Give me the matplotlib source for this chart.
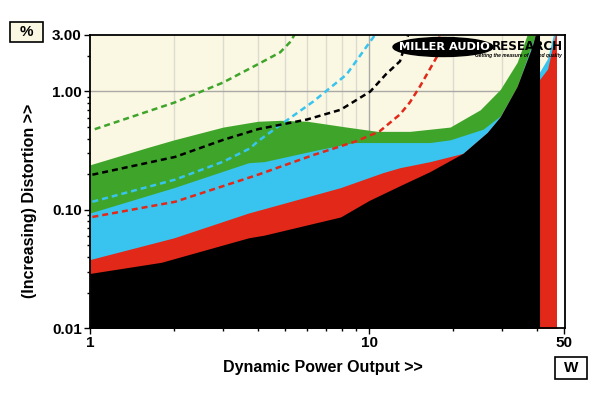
import numpy as np
import matplotlib
matplotlib.use("Agg")
import matplotlib.pyplot as plt
from matplotlib.patches import Ellipse, Rectangle

plt.rcParams['font.family'] = ['Liberation Sans', 'DejaVu Sans']

# ---------------- DATA ----------------
# filled bands, each is the top edge of one colour (x in W, y in %)
green_x = [1.0, 1.6, 2.0, 3.0, 4.0, 4.8, 6.0, 8.3, 10.7, 14.0, 19.5, 25.0, 29.5, 33.9, 36.8, 40.0]
green_y = [0.24, 0.335, 0.39, 0.50, 0.56, 0.57, 0.56, 0.50, 0.46, 0.46, 0.50, 0.70, 1.04, 1.76, 3.0, 3.0]

blue_x = [1.0, 2.0, 3.7, 4.2, 6.5, 8.8, 16.5, 19.5, 25.6, 29.5, 33.9, 37.6, 39.4, 40.0]
blue_y = [0.094, 0.154, 0.25, 0.255, 0.32, 0.37, 0.37, 0.39, 0.48, 0.62, 1.10, 2.2, 3.0, 3.0]

red_x = [1.0, 2.0, 3.7, 4.2, 7.9, 11.2, 12.9, 16.5, 21.7, 26.5, 29.5, 33.9, 38.4, 39.4, 40.0]
red_y = [0.038, 0.058, 0.094, 0.102, 0.154, 0.206, 0.227, 0.255, 0.30, 0.45, 0.61, 1.10, 2.4, 3.0, 3.0]

black_x = [1.0, 1.8, 3.7, 4.2, 7.9, 10.0, 12.9, 16.5, 21.7, 26.5, 29.5, 33.9, 38.4, 39.4, 40.0]
black_y = [0.029, 0.036, 0.058, 0.061, 0.087, 0.12, 0.16, 0.21, 0.30, 0.45, 0.61, 1.10, 2.4, 3.0, 3.0]

# clipping region right of 40 W
clip_red_x = [40.0, 43.6, 46.4, 47.2]
clip_red_y = [1.19, 1.55, 3.0, 3.0]
clip_blue_x = [40.0, 43.6, 45.7, 47.2]
clip_blue_y = [1.35, 1.9, 3.0, 3.0]

# dashed curves
dash_green_x = [1.04, 2.02, 3.0, 4.0, 4.8, 5.2, 5.4]
dash_green_y = [0.48, 0.81, 1.19, 1.70, 2.14, 2.6, 3.0]

dash_black_x = [1.02, 2.02, 3.0, 4.0, 6.0, 7.9, 10.1, 11.5, 12.9, 13.8]
dash_black_y = [0.198, 0.28, 0.39, 0.48, 0.58, 0.70, 1.00, 1.40, 1.80, 3.0]

dash_cyan_x = [1.02, 2.02, 3.0, 3.74, 4.0, 4.8, 6.3, 8.3, 10.1, 10.5]
dash_cyan_y = [0.117, 0.18, 0.255, 0.33, 0.38, 0.52, 0.82, 1.39, 2.65, 3.0]

dash_red_x = [1.02, 2.02, 4.0, 6.3, 9.0, 10.9, 12.9, 14.0, 15.2, 17.5, 17.9]
dash_red_y = [0.087, 0.117, 0.198, 0.29, 0.38, 0.46, 0.64, 0.81, 1.10, 1.97, 3.0]

x_ticks = [1, 10, 50]
x_ticklabels = ["1", "10", "50"]
y_ticks = [0.01, 0.1, 1.0, 3.0]
y_ticklabels = ["0.01", "0.10", "1.00", "3.00"]
# -------------------------------------------------------------

GREEN = "#3fa52a"
BLUE = "#38c4ef"
RED = "#e22818"
CREAM = "#faf7e2"
BOTTOM = 0.005
W, H = 600.0, 393.0

fig = plt.figure(figsize=(6, 3.93), dpi=100)
ax = fig.add_axes([0.15, 0.165, 0.792, 0.746])
ax.set_xscale("log")
ax.set_yscale("log")
ax.set_xlim(1, 50.4)
ax.set_ylim(0.01, 3.0)
ax.set_facecolor(CREAM)
ax.set_axisbelow(True)

# grid
for gx in [2, 3, 4, 5, 6, 7, 8, 9, 20, 30, 40]:
    ax.axvline(gx, color="#dcdbd0", lw=1, zorder=0.5)
ax.axvline(10, color="#a9a9a6", lw=1, zorder=0.5)
for gy in [0.1, 1.0]:
    ax.axhline(gy, color="#a9a9a6", lw=1, zorder=0.5)

# stacked bands, painted back to front
ax.fill_between(green_x, BOTTOM, green_y, color=GREEN, lw=0, zorder=1)
ax.fill_between(blue_x, BOTTOM, blue_y, color=BLUE, lw=0, zorder=1.1)
ax.fill_between(red_x, BOTTOM, red_y, color=RED, lw=0, zorder=1.2)
ax.fill_between(black_x, BOTTOM, black_y, color="black", lw=0, zorder=1.3)

ax.fill_between(clip_blue_x, BOTTOM, clip_blue_y, color=BLUE, lw=0, zorder=1.1)
ax.fill_between(clip_red_x, BOTTOM, clip_red_y, color=RED, lw=0, zorder=1.2)
ax.axvline(40.2, color="black", lw=2.2, zorder=1.4)
ax.axvspan(47.2, 50.4, color="white", lw=0, zorder=1.4)

# dashed curves
dash = dict(lw=1.8, dashes=(2.4, 1.6), zorder=2)
ax.plot(dash_green_x, dash_green_y, color=GREEN, **dash)
ax.plot(dash_cyan_x, dash_cyan_y, color=BLUE, **dash)
ax.plot(dash_black_x, dash_black_y, color="black", **dash)
ax.plot(dash_red_x, dash_red_y, color=RED, **dash)

# ticks
ax.set_xticks(x_ticks)
ax.set_xticklabels(x_ticklabels, fontsize=11, fontweight="bold")
ax.set_xticks([2, 3, 4, 5, 6, 7, 8, 9, 20, 30, 40], minor=True)
ax.set_xticklabels([], minor=True)
ax.set_yticks(y_ticks)
ax.set_yticklabels(y_ticklabels, fontsize=11, fontweight="bold")
ax.set_yticks([v * d for d in [0.01, 0.1] for v in range(2, 10)] + [2.0], minor=True)
ax.set_yticklabels([], minor=True)
ax.tick_params(which="major", direction="out", length=4, width=1, pad=2)
ax.tick_params(which="minor", direction="out", length=2.5, width=1)
for s in ax.spines.values():
    s.set_linewidth(1.3)
    s.set_zorder(5)

# axis titles
fig.text(0.538, 0.066, "Dynamic Power Output >>", ha="center", va="center",
         fontsize=11.5, fontweight="bold")
fig.text(0.05, 0.49, "(Increasing) Distortion >>", ha="center", va="center",
         rotation=90, fontsize=11.5, fontweight="bold")

# unit boxes (pixel boxes converted to figure fractions)
fig.patches.append(Rectangle((10 / W, 1 - 42 / H), 33 / W, 20 / H, transform=fig.transFigure,
                             fc=CREAM, ec="black", lw=1.2))
fig.text(26.5 / W, 1 - 32 / H, "%", ha="center", va="center", fontsize=11, fontweight="bold")
fig.patches.append(Rectangle((555 / W, 1 - 379 / H), 32 / W, 22 / H, transform=fig.transFigure,
                             fc="white", ec="black", lw=1.2))
fig.text(571 / W, 1 - 368 / H, "W", ha="center", va="center", fontsize=11, fontweight="bold")

# logo
fig.patches.append(Ellipse((443 / W, 1 - 47 / H), 100 / W, 19 / H, transform=fig.transFigure,
                           fc="black", ec="black"))
fig.text(399 / W, 1 - 46.5 / H, "MILLER AUDIO", ha="left", va="center", color="white",
         fontsize=8.2, fontweight="bold", family="DejaVu Sans")
fig.text(563 / W, 1 - 46.5 / H, "RESEARCH", ha="right", va="center", color="black",
         fontsize=8.6, fontweight="bold", family="DejaVu Sans", zorder=8)
fig.text(562 / W, 1 - 55 / H, "Getting the measure of sound quality", ha="right", va="center",
         color="black", fontsize=3.5, fontweight="bold", style="italic", zorder=8)

fig.savefig("out.png", dpi=100)
